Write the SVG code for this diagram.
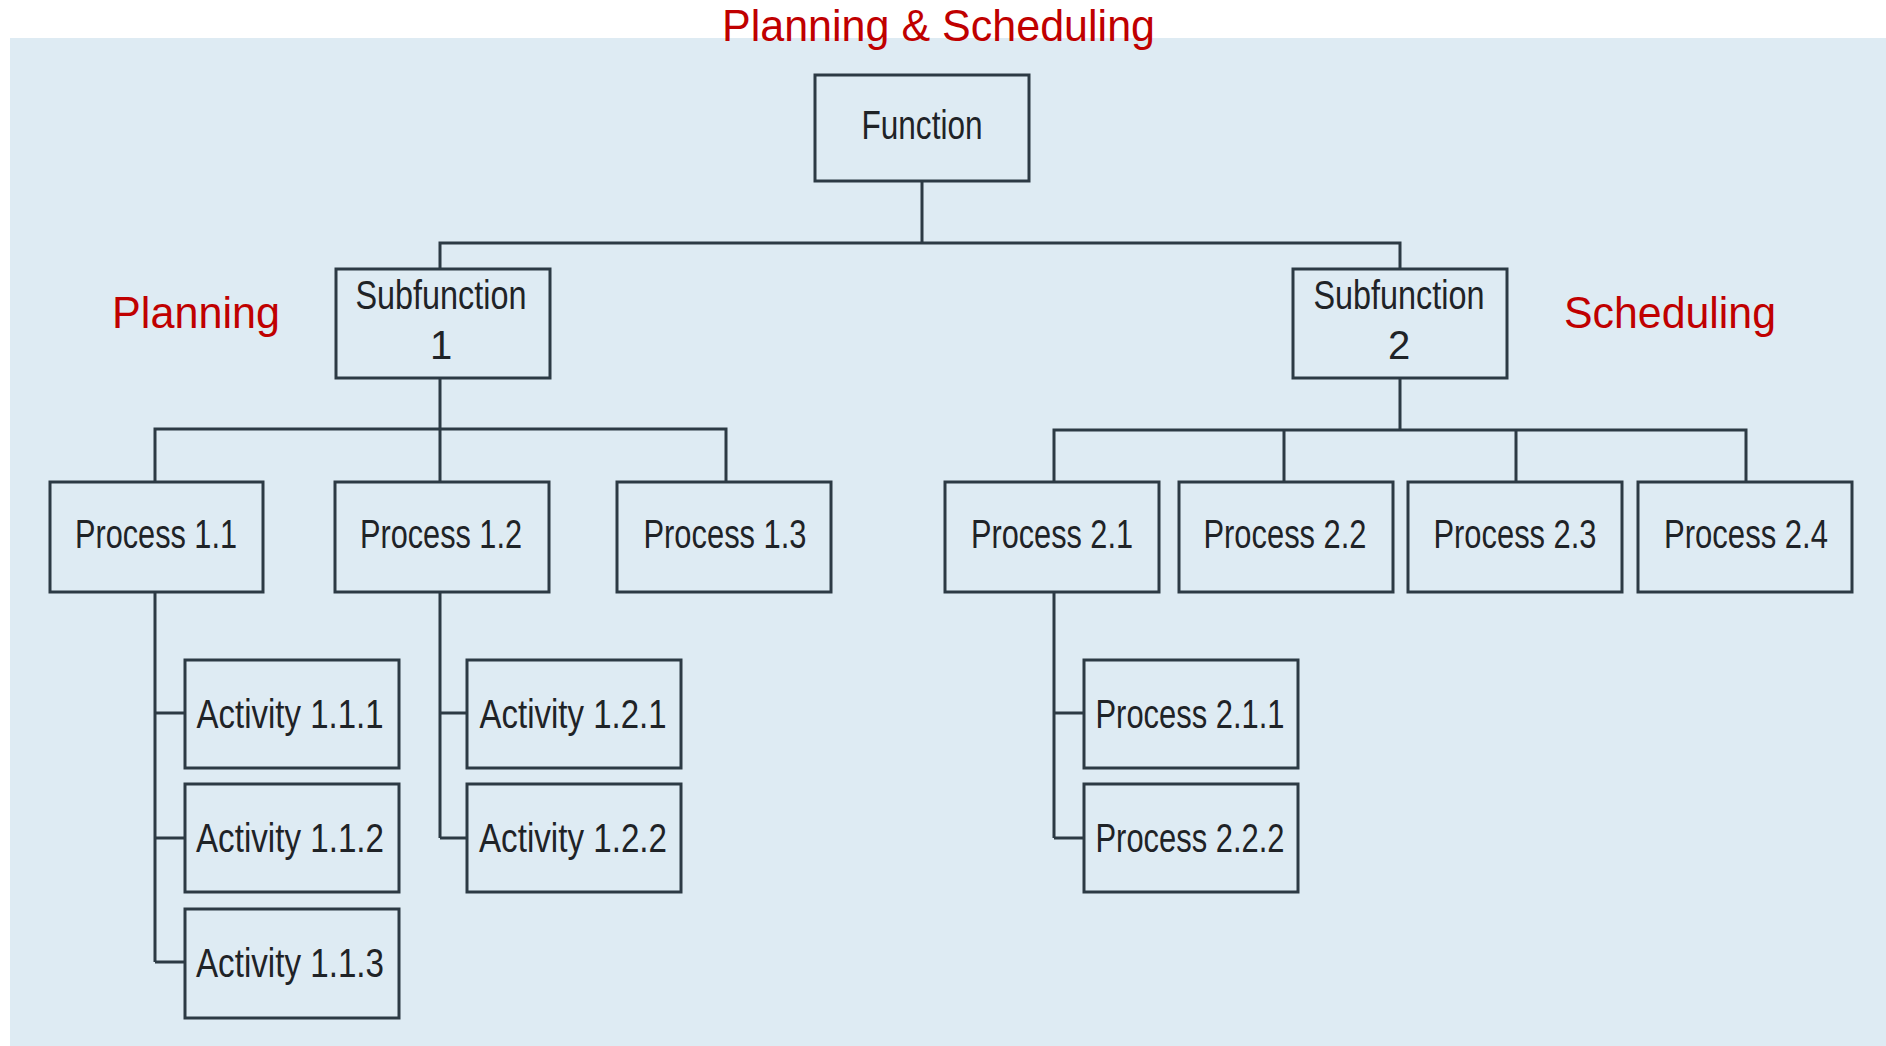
<svg xmlns="http://www.w3.org/2000/svg" width="1886" height="1046" viewBox="0 0 1886 1046">
  <style>
    .bg { fill: #deebf3; }
    .box rect { fill: #deebf3; stroke: #2c3a44; stroke-width: 3; }
    .box text { font-family: "Liberation Sans", Arial, sans-serif; font-size: 40px; fill: #1f2327; text-anchor: middle; }
    .wire { fill: none; stroke: #2c3a44; stroke-width: 3; }
    .tag { font-family: "Liberation Sans", Arial, sans-serif; font-size: 44px; fill: #c00000; }
  </style>

  <rect width="1886" height="1046" fill="#ffffff"/>
  <rect class="bg" x="10" y="38" width="1876" height="1008"/>

  <!-- section labels -->
  <text class="tag" x="722" y="41" textLength="433" lengthAdjust="spacingAndGlyphs">Planning &amp; Scheduling</text>
  <text class="tag" x="112" y="328" textLength="168" lengthAdjust="spacingAndGlyphs">Planning</text>
  <text class="tag" x="1564" y="328" textLength="212" lengthAdjust="spacingAndGlyphs">Scheduling</text>

  <!-- tree connectors -->
  <g id="connectors" class="wire">
    <path d="M922 181 V243 M440 269 V243 H1400 V269"/>
    <path d="M440 378 V429 M155 482 V429 H726 V482 M440 429 V482"/>
    <path d="M1400 378 V430 M1054 482 V430 H1746 V482 M1284 430 V482 M1516 430 V482"/>
    <path d="M155 592 V962 M155 713 H185 M155 838 H185 M155 962 H185"/>
    <path d="M440 592 V838 M440 713 H467 M440 838 H467"/>
    <path d="M1054 592 V838 M1054 713 H1084 M1054 838 H1084"/>
  </g>

  <g id="function" class="box"><rect x="815" y="75" width="214" height="106"/><text x="922" y="139" textLength="121" lengthAdjust="spacingAndGlyphs">Function</text></g>

  <g id="subfunction-1" class="box"><rect x="336" y="269" width="214" height="109"/><text x="441" y="309" textLength="171" lengthAdjust="spacingAndGlyphs">Subfunction</text><text x="441" y="359">1</text></g>
  <g id="subfunction-2" class="box"><rect x="1293" y="269" width="214" height="109"/><text x="1399" y="309" textLength="171" lengthAdjust="spacingAndGlyphs">Subfunction</text><text x="1399" y="359">2</text></g>

  <g id="process-1-1" class="box"><rect x="50" y="482" width="213" height="110"/><text x="156" y="548" textLength="162" lengthAdjust="spacingAndGlyphs">Process 1.1</text></g>
  <g id="process-1-2" class="box"><rect x="335" y="482" width="214" height="110"/><text x="441" y="548" textLength="162" lengthAdjust="spacingAndGlyphs">Process 1.2</text></g>
  <g id="process-1-3" class="box"><rect x="617" y="482" width="214" height="110"/><text x="725" y="548" textLength="163" lengthAdjust="spacingAndGlyphs">Process 1.3</text></g>
  <g id="process-2-1" class="box"><rect x="945" y="482" width="214" height="110"/><text x="1052" y="548" textLength="162" lengthAdjust="spacingAndGlyphs">Process 2.1</text></g>
  <g id="process-2-2" class="box"><rect x="1179" y="482" width="214" height="110"/><text x="1285" y="548" textLength="163" lengthAdjust="spacingAndGlyphs">Process 2.2</text></g>
  <g id="process-2-3" class="box"><rect x="1408" y="482" width="214" height="110"/><text x="1515" y="548" textLength="163" lengthAdjust="spacingAndGlyphs">Process 2.3</text></g>
  <g id="process-2-4" class="box"><rect x="1638" y="482" width="214" height="110"/><text x="1746" y="548" textLength="164" lengthAdjust="spacingAndGlyphs">Process 2.4</text></g>

  <g id="activity-1-1-1" class="box"><rect x="185" y="660" width="214" height="108"/><text x="290" y="728" textLength="187" lengthAdjust="spacingAndGlyphs">Activity 1.1.1</text></g>
  <g id="activity-1-1-2" class="box"><rect x="185" y="784" width="214" height="108"/><text x="290" y="852" textLength="188" lengthAdjust="spacingAndGlyphs">Activity 1.1.2</text></g>
  <g id="activity-1-1-3" class="box"><rect x="185" y="909" width="214" height="109"/><text x="290" y="977" textLength="188" lengthAdjust="spacingAndGlyphs">Activity 1.1.3</text></g>
  <g id="activity-1-2-1" class="box"><rect x="467" y="660" width="214" height="108"/><text x="573" y="728" textLength="187" lengthAdjust="spacingAndGlyphs">Activity 1.2.1</text></g>
  <g id="activity-1-2-2" class="box"><rect x="467" y="784" width="214" height="108"/><text x="573" y="852" textLength="188" lengthAdjust="spacingAndGlyphs">Activity 1.2.2</text></g>
  <g id="process-2-1-1" class="box"><rect x="1084" y="660" width="214" height="108"/><text x="1190" y="728" textLength="189" lengthAdjust="spacingAndGlyphs">Process 2.1.1</text></g>
  <g id="process-2-2-2" class="box"><rect x="1084" y="784" width="214" height="108"/><text x="1190" y="852" textLength="189" lengthAdjust="spacingAndGlyphs">Process 2.2.2</text></g>
</svg>
